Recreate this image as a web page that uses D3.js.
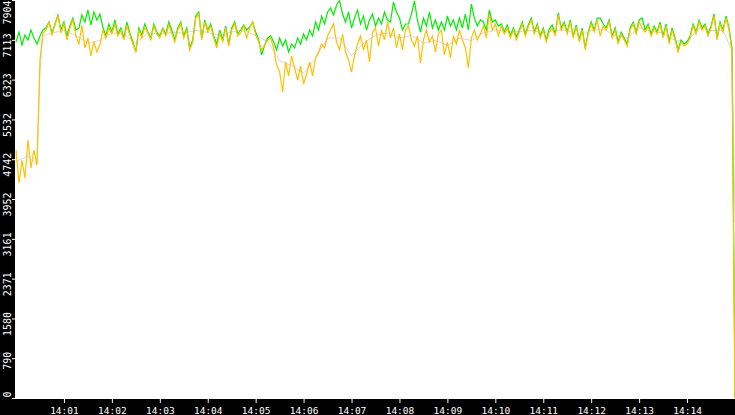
<!DOCTYPE html>
<html>
<head>
<meta charset="utf-8">
<script src="https://cdn.jsdelivr.net/npm/d3@7"></script>
<style>
  body { margin: 0; background: #fff; overflow: hidden; }
</style>
</head>
<body>
<div id="chart"></div>
<script>
// samples every 3.75 s from 14:00 to 14:15
var startLabel = "14:00";
var endLabel = "14:15";
var stepSec = 3.75;

var yTicks = [0, 790, 1580, 2371, 3161, 3952, 4742, 5532, 6323, 7113, 7904];
var xTickLabels = ["14:01", "14:02", "14:03", "14:04", "14:05", "14:06", "14:07",
                   "14:08", "14:09", "14:10", "14:11", "14:12", "14:13", "14:14"];

var yellowValues = [
  4925, 4270, 4727, 4369, 5124, 4568, 4925, 4627, 6713, 7249,
  7308, 7467, 7209, 7407, 7586, 7249, 7427, 7110, 7348, 7507,
  7189, 7030, 7407, 6951, 7149, 6792, 7070, 6871, 7010, 7308,
  7149, 7348, 7229, 7427, 7189, 7308, 7110, 7387, 7209, 7030,
  6871, 7308, 7149, 7368, 7249, 7110, 7387, 7229, 7149, 7328,
  7189, 7407, 7249, 7070, 7308, 7427, 7149, 7308, 6911, 7070,
  7546, 7626, 7110, 7467, 7268, 7387, 7149, 6951, 7249, 7070,
  7348, 6990, 7308, 7427, 7189, 7249, 7387, 7149, 7348, 7467,
  7209, 7070, 6911, 7010, 7110, 7149, 6951, 6613, 6474, 6077,
  6673, 6395, 6792, 6554, 6315, 6593, 6236, 6434, 6673, 6395,
  6752, 6871, 7030, 6951, 7189, 7308, 7427, 7070, 6911, 7229,
  6871, 6713, 6474, 6792, 7030, 7189, 6911, 7110, 6673, 7268,
  7348, 6990, 7308, 7110, 7467, 7149, 7348, 6951, 7229, 6911,
  7308, 7387, 7110, 6990, 7189, 6653, 7110, 7308, 7070, 7189,
  6871, 7229, 7308, 6812, 7070, 6752, 7189, 7030, 7308, 7110,
  6951, 6554, 7149, 7308, 7110, 7229, 7387, 7149, 7626, 7308,
  7427, 7189, 7387, 7229, 7348, 7149, 7308, 7110, 7268, 7427,
  7189, 7368, 7507, 7229, 7387, 7149, 7308, 7070, 7268, 7348,
  7189, 7606, 7308, 7427, 7229, 7467, 7149, 7368, 7070, 7308,
  6911, 7229, 7427, 7268, 7507, 7189, 7387, 7308, 7467, 7149,
  7308, 7030, 7229, 7110, 6990, 7308, 7427, 7229, 7467, 7348,
  7268, 7387, 7189, 7348, 7229, 7427, 7149, 7387, 7030, 7308,
  7110, 6871, 7070, 6990, 7030, 7149, 7387, 7229, 7467, 7308,
  7387, 7189, 7348, 7586, 7110, 7427, 7268, 7546, 7308, 6871,
  0
];

var greenValues = [
  7070, 7268, 7010, 7209, 7110, 7308, 7149, 7030, 7189, 7308,
  7348, 7467, 7249, 7427, 7606, 7308, 7467, 7189, 7387, 7546,
  7308, 7348, 7606, 7467, 7705, 7407, 7666, 7507, 7626, 7368,
  7189, 7427, 7268, 7507, 7229, 7348, 7149, 7467, 7249, 7070,
  6871, 7348, 7209, 7427, 7268, 7149, 7427, 7268, 7189, 7348,
  7229, 7467, 7308, 7110, 7348, 7467, 7189, 7348, 6951, 7110,
  7586, 7666, 7149, 7507, 7308, 7427, 7189, 7030, 7308, 7110,
  7387, 7030, 7348, 7467, 7229, 7308, 7407, 7308, 7368, 7467,
  7268, 7110, 6812, 7010, 7149, 7189, 7070, 6911, 7149, 6990,
  7110, 6871, 7030, 6951, 7149, 7030, 7229, 7110, 7308, 7189,
  7467, 7308, 7586, 7427, 7666, 7745, 7606, 7805, 7890, 7626,
  7467, 7666, 7348, 7546, 7705, 7427, 7586, 7308, 7507, 7626,
  7387, 7546, 7427, 7666, 7507, 7467, 7864, 7666, 7546, 7308,
  7427, 7427, 7626, 7884, 7507, 7268, 7546, 7387, 7666, 7348,
  7507, 7308, 7467, 7308, 7586, 7387, 7507, 7308, 7546, 7348,
  7626, 7308, 7824, 7546, 7387, 7507, 7467, 7308, 7705, 7467,
  7507, 7387, 7427, 7268, 7407, 7189, 7348, 7169, 7308, 7467,
  7229, 7407, 7546, 7268, 7427, 7189, 7348, 7110, 7328, 7407,
  7229, 7646, 7348, 7467, 7268, 7507, 7189, 7407, 7110, 7348,
  6951, 7268, 7467, 7308, 7546, 7546, 7427, 7348, 7507, 7189,
  7348, 7070, 7268, 7149, 7030, 7348, 7467, 7268, 7507, 7546,
  7308, 7427, 7229, 7387, 7268, 7467, 7189, 7427, 7070, 7348,
  7149, 6911, 7110, 7030, 7070, 7189, 7427, 7268, 7507, 7348,
  7427, 7229, 7387, 7626, 7149, 7467, 7308, 7586, 7348, 6951,
  0
];

// grey trace is sampled more coarsely: these are the step numbers it was read at
var grayIdx = [0, 4, 7, 8, 9].concat(d3.range(12, 240, 4), [239, 240]);
var grayValues = [
  4700, 4800, 4650, 6500, 7200,
  7250, 7300, 7200, 7050, 7100, 7250, 7220,
  7050, 7250, 7230, 7260, 7250, 7300, 7260, 7200, 7280, 7300,
  7200, 7080, 6700, 6600, 6450, 6750, 7150, 7150, 6800, 7050,
  7200, 7250, 7150, 7200, 7050, 7100, 7000, 7150, 7100, 7250,
  7300, 7280, 7280, 7300, 7250, 7300, 7300, 7200, 7300, 7320,
  7200, 7150, 7350, 7280, 7250, 7100, 7080, 7350, 7300, 7300,
  6900, 3500
];

var width = 735, height = 415;
var left = 15, bottom = 399;

var parseTime = d3.timeParse("%H:%M");
var t0 = parseTime(startLabel);
function timeAt(i) { return new Date(t0.getTime() + i * stepSec * 1000); }

var x = d3.scaleTime()
    .domain([t0, parseTime(endLabel)])
    .range([16, 735]);
var y = d3.scaleLinear()
    .domain([0, 7904])
    .range([398, 0]);

var svg = d3.select("#chart").append("svg")
    .attr("width", width)
    .attr("height", height)
    .style("display", "block");

svg.append("defs").append("clipPath")
    .attr("id", "plot")
  .append("rect")
    .attr("x", left)
    .attr("y", 0)
    .attr("width", width - left)
    .attr("height", bottom);

// black frame strips
svg.append("rect")
    .attr("x", 0).attr("y", 0)
    .attr("width", left).attr("height", height)
    .attr("fill", "#000");
svg.append("rect")
    .attr("x", 0).attr("y", bottom)
    .attr("width", width).attr("height", height - bottom)
    .attr("fill", "#000");

var plot = svg.append("g").attr("clip-path", "url(#plot)");

var line = d3.line()
    .x(function(d) { return x(timeAt(d[0])); })
    .y(function(d) { return y(d[1]); });

plot.append("path")
    .datum(grayIdx.map(function(i, k) { return [i, grayValues[k]]; }))
    .attr("d", line)
    .attr("fill", "none")
    .attr("stroke", "#c4c4c4")
    .attr("stroke-width", 0.7);

plot.append("path")
    .datum(greenValues.map(function(v, i) { return [i, v]; }))
    .attr("d", line)
    .attr("fill", "none")
    .attr("stroke", "#00ee00")
    .attr("stroke-width", 1.2);

plot.append("path")
    .datum(yellowValues.map(function(v, i) { return [i, v]; }))
    .attr("d", line)
    .attr("fill", "none")
    .attr("stroke", "#ffc000")
    .attr("stroke-width", 1.2);

// y axis, labels turned to read upwards, nudged up a little above the tick
var yAxis = svg.append("g")
    .attr("transform", "translate(" + left + ",0)")
    .call(d3.axisLeft(y).tickValues(yTicks).tickSize(3).tickFormat(d3.format("d")));
yAxis.select(".domain").remove();
yAxis.selectAll(".tick line").attr("stroke", "#fff");
yAxis.selectAll(".tick text")
    .attr("transform", "rotate(-90)")
    .attr("x", function(d) { return Math.min(7, y(d)); })
    .attr("y", -4)
    .attr("dy", 0)
    .attr("text-anchor", "end")
    .attr("fill", "#fff")
    .attr("font-family", "DejaVu Sans Mono")
    .attr("font-size", "10px");

// x axis
var xAxis = svg.append("g")
    .attr("transform", "translate(0," + bottom + ")")
    .call(d3.axisBottom(x)
        .tickValues(xTickLabels.map(parseTime))
        .tickSize(4)
        .tickFormat(d3.timeFormat("%H:%M")));
xAxis.select(".domain").remove();
xAxis.selectAll(".tick line").attr("stroke", "#fff");
xAxis.selectAll(".tick text")
    .attr("y", 6)
    .attr("dy", "0.9em")
    .attr("fill", "#fff")
    .attr("font-family", "DejaVu Sans Mono")
    .attr("font-size", "9.5px");
</script>
</body>
</html>
